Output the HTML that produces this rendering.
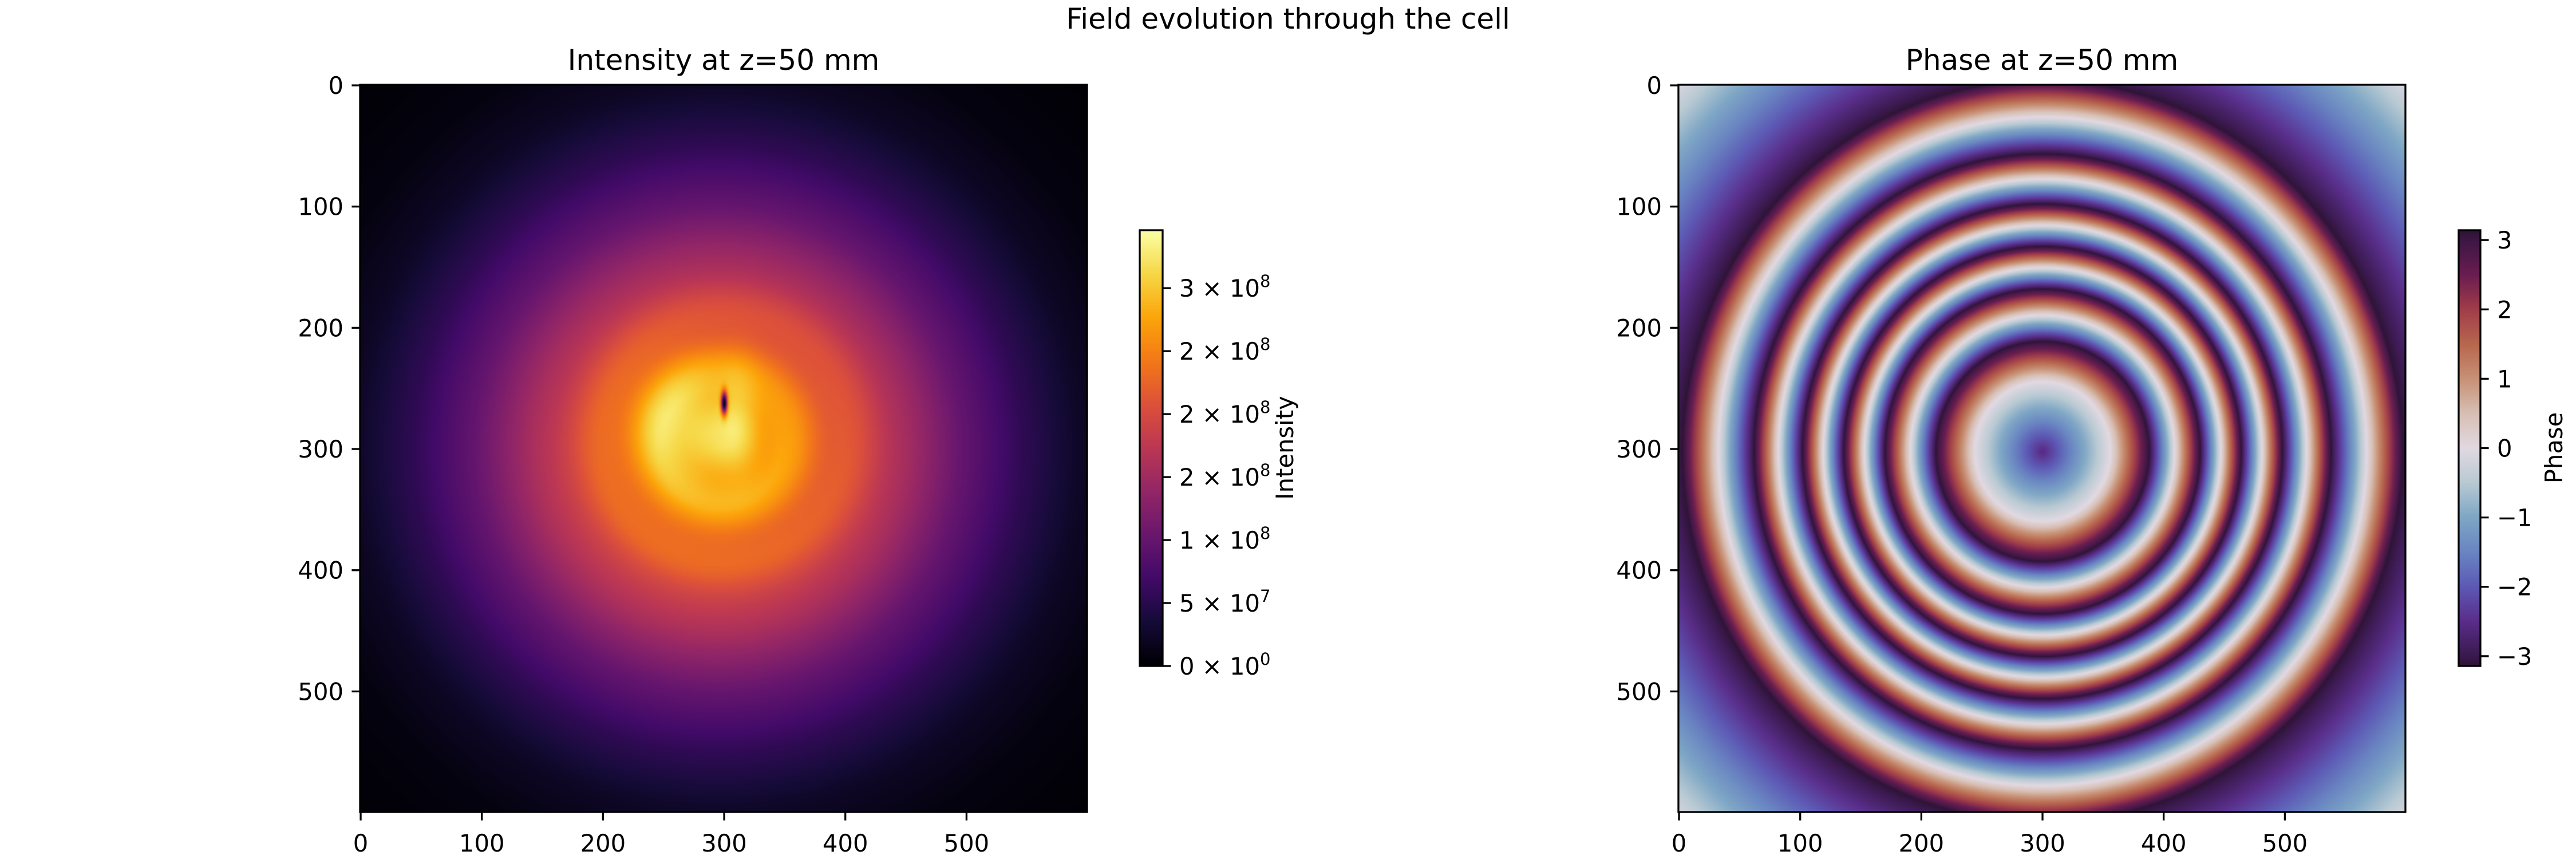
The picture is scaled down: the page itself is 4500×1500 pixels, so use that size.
<!DOCTYPE html>
<html><head><meta charset="utf-8">
<style>
html,body{margin:0;padding:0;background:#fff;}
#root{position:relative;width:4500px;height:1500px;overflow:hidden;font-family:"DejaVu Sans","Liberation Sans",sans-serif;}
canvas{position:absolute;}
svg{position:absolute;left:0;top:0;}
</style></head>
<body>
<div id="root">
<canvas id="imgI" width="600" height="600" style="left:629px;top:148px;width:1270px;height:1270px;"></canvas>
<canvas id="imgP" width="600" height="600" style="left:2932px;top:148px;width:1270px;height:1270px;"></canvas>
<canvas id="cbI" width="1" height="256" style="left:1991px;top:402px;width:40px;height:761px;"></canvas>
<canvas id="cbP" width="1" height="256" style="left:4295px;top:402px;width:38px;height:761px;"></canvas>
<svg id="ov" width="4500" height="1500"></svg>
</div>
<script>
// ---- data ----
const axisTicks = [0,100,200,300,400,500];
const phaseRadii = [0,56,88,130,164,198,238,297,424];
const phaseValues = [-2.6,0,3.14,9.42,15.71,21.99,28.27,34.56,37.70];
const phaseCenter = [300,302];
const intensityRadii = [0,50,100,150,200,250,300,350,424];
const intensityValues = [2.85,2.7,2.2,1.6,1.0,0.55,0.22,0.07,0.01]; // x1e8
const intensityCenter = [295,300];
const coreCenter = [262,276];
const coreBoost = [0.5]; // x1e8
const crescentBoost = [0.35]; // x1e8
const vortexPos = [300,262];
const intensityMax = [3.46]; // x1e8
const intensityTickValues = [0,0.5,1,1.5,2,2.5,3]; // x1e8
const intensityTickLabels = [["0","0"],["5","7"],["1","8"],["2","8"],["2","8"],["2","8"],["3","8"]];
const phaseTickValues = [-3,-2,-1,0,1,2,3];
const phaseTickLabels = ["\u22123","\u22122","\u22121","0","1","2","3"];

const inferno=[[0,0,0,4],[0.1,22,11,57],[0.2,66,10,104],[0.3,106,23,110],[0.4,147,38,103],[0.5,188,55,84],[0.6,221,81,58],[0.7,243,120,25],[0.8,252,165,10],[0.9,246,215,70],[1,252,255,164]];
const twilight=[[-Math.PI,47,20,54],[-3,59,26,79],[-2.5,90,47,140],[-2,93,90,181],[-1.5,106,134,194],[-1,127,167,197],[-0.5,185,202,211],[0,226,217,226],[0.5,216,192,181],[1,200,146,119],[1.5,184,104,79],[2,162,62,74],[2.5,107,30,80],[3,62,23,69],[Math.PI,47,20,54]];
function cmap(st,v){if(v<=st[0][0])return st[0].slice(1);for(let i=1;i<st.length;i++){if(v<=st[i][0]){const a=st[i-1],b=st[i],t=(v-a[0])/(b[0]-a[0]);return [a[1]+t*(b[1]-a[1]),a[2]+t*(b[2]-a[2]),a[3]+t*(b[3]-a[3])];}}return st[st.length-1].slice(1);}
function lerpArr(xs,ys,x){if(x<=xs[0])return ys[0];for(let i=1;i<xs.length;i++){if(x<=xs[i]){const t=(x-xs[i-1])/(xs[i]-xs[i-1]);return ys[i-1]+t*(ys[i]-ys[i-1]);}}const n=xs.length;return ys[n-1]+(x-xs[n-1])*(ys[n-1]-ys[n-2])/(xs[n-1]-xs[n-2]);}

// intensity image
(function(){const c=document.getElementById('imgI').getContext('2d');const im=c.createImageData(600,600);
for(let y=0;y<600;y++)for(let x=0;x<600;x++){
 const r=Math.hypot(x-intensityCenter[0],y-intensityCenter[1]);
 let v=lerpArr(intensityRadii,intensityValues,r);
 const rc=Math.hypot((x-coreCenter[0])*1.15,y-coreCenter[1]);
 v+=coreBoost[0]*Math.exp(-rc*rc/(2*35*35));
 const rcr=Math.hypot((x-312)*2.2,(y-275)*0.8);
 v+=crescentBoost[0]*Math.exp(-rcr*rcr/(2*25*25));
 const rr=Math.hypot(x-300,y-290);
 v*=1+0.05*Math.cos(rr/9)*Math.exp(-Math.pow((rr-70)/60,2));
 const dx=(x-vortexPos[0])/2.5,dy=(y-vortexPos[1])/9;
 v*=1-Math.exp(-(dx*dx+dy*dy));
 const col=cmap(inferno,Math.max(0,Math.min(1,v/intensityMax[0])));
 const k=(y*600+x)*4;im.data[k]=col[0];im.data[k+1]=col[1];im.data[k+2]=col[2];im.data[k+3]=255;}
c.putImageData(im,0,0);})();
// phase image
(function(){const c=document.getElementById('imgP').getContext('2d');const im=c.createImageData(600,600);
for(let y=0;y<600;y++)for(let x=0;x<600;x++){
 const r=Math.hypot(x-phaseCenter[0],(y-phaseCenter[1])*0.97);
 let p=lerpArr(phaseRadii,phaseValues,r);
 p=((p+Math.PI)%(2*Math.PI)+2*Math.PI)%(2*Math.PI)-Math.PI;
 const col=cmap(twilight,p);
 const k=(y*600+x)*4;im.data[k]=col[0];im.data[k+1]=col[1];im.data[k+2]=col[2];im.data[k+3]=255;}
c.putImageData(im,0,0);})();
// colorbars
(function(){const a=document.getElementById('cbI').getContext('2d'),b=document.getElementById('cbP').getContext('2d');
for(let i=0;i<256;i++){const t=1-i/255;let c1=cmap(inferno,t);a.fillStyle=`rgb(${c1[0]|0},${c1[1]|0},${c1[2]|0})`;a.fillRect(0,i,1,1);
let c2=cmap(twilight,Math.PI-2*Math.PI*i/255);b.fillStyle=`rgb(${c2[0]|0},${c2[1]|0},${c2[2]|0})`;b.fillRect(0,i,1,1);}})();

// overlay
const NS='http://www.w3.org/2000/svg',ov=document.getElementById('ov');
function el(tag,attrs,text){const e=document.createElementNS(NS,tag);for(const k in attrs)e.setAttribute(k,attrs[k]);if(text!==undefined)e.textContent=text;ov.appendChild(e);return e;}
const S=1270/600;
function axX(x0,v){return x0+(v+0.5)*S;}
function axY(v){return 148+(v+0.5)*S;}
const FS=41.7;
[[629,'intensity'],[2932,'phase']].forEach(([x0,nm])=>{
 const fr=el('rect',{x:x0,y:148,width:1270,height:1270,fill:'none',stroke:'#000','stroke-width':3.3});
 
 
 axisTicks.forEach(v=>{
  const xp=axX(x0,v),yp=axY(v);
  const t1=el('line',{x1:xp,y1:1418,x2:xp,y2:1432.6,stroke:'#000','stroke-width':3.3});
  
  
  const l1=el('text',{x:xp,y:1487,'font-size':FS,'text-anchor':'middle'},String(v));
  
  
  const t2=el('line',{x1:x0,y1:yp,x2:x0-14.6,y2:yp,stroke:'#000','stroke-width':3.3});
  
  
  const l2=el('text',{x:x0-29,y:yp+15,'font-size':FS,'text-anchor':'end'},String(v));
  
  
 });
});
const tt1=el('text',{x:1264,y:122,'font-size':50,'text-anchor':'middle'},'Intensity at z=50 mm');


const tt2=el('text',{x:3567,y:122,'font-size':50,'text-anchor':'middle'},'Phase at z=50 mm');


const st=el('text',{x:2250,y:50,'font-size':50,'text-anchor':'middle'},'Field evolution through the cell');


// colorbar frames & ticks
const cbTop=402,cbBot=1163,cbH=761;
const f1=el('rect',{x:1991,y:cbTop,width:40,height:cbH,fill:'none',stroke:'#000','stroke-width':3.3});


const f2=el('rect',{x:4295,y:cbTop,width:38,height:cbH,fill:'none',stroke:'#000','stroke-width':3.3});


intensityTickValues.forEach((v,i)=>{
 const yp=cbBot-v/intensityMax[0]*cbH;
 const t=el('line',{x1:2031,y1:yp,x2:2045.6,y2:yp,stroke:'#000','stroke-width':3.3});
 
 
 const tx=el('text',{x:2060,y:yp+15,'font-size':FS});
 
 
 const s1=document.createElementNS(NS,'tspan');s1.textContent=intensityTickLabels[i][0]+' \u00d7 10';tx.appendChild(s1);
 const s2=document.createElementNS(NS,'tspan');s2.setAttribute('font-size',29);s2.setAttribute('dy',-17);s2.textContent=intensityTickLabels[i][1];tx.appendChild(s2);
});
phaseTickValues.forEach((v,i)=>{
 const yp=cbBot-(v+Math.PI)/(2*Math.PI)*cbH;
 const t=el('line',{x1:4333,y1:yp,x2:4347.6,y2:yp,stroke:'#000','stroke-width':3.3});
 
 
 const tx=el('text',{x:4362,y:yp+15,'font-size':FS},phaseTickLabels[i]);
 
 
});
const cl1=el('text',{x:0,y:0,'font-size':FS,'text-anchor':'middle',transform:'translate(2259,782) rotate(-90)'},'Intensity');


const cl2=el('text',{x:0,y:0,'font-size':FS,'text-anchor':'middle',transform:'translate(4476,782) rotate(-90)'},'Phase');


</script>
</body></html>
